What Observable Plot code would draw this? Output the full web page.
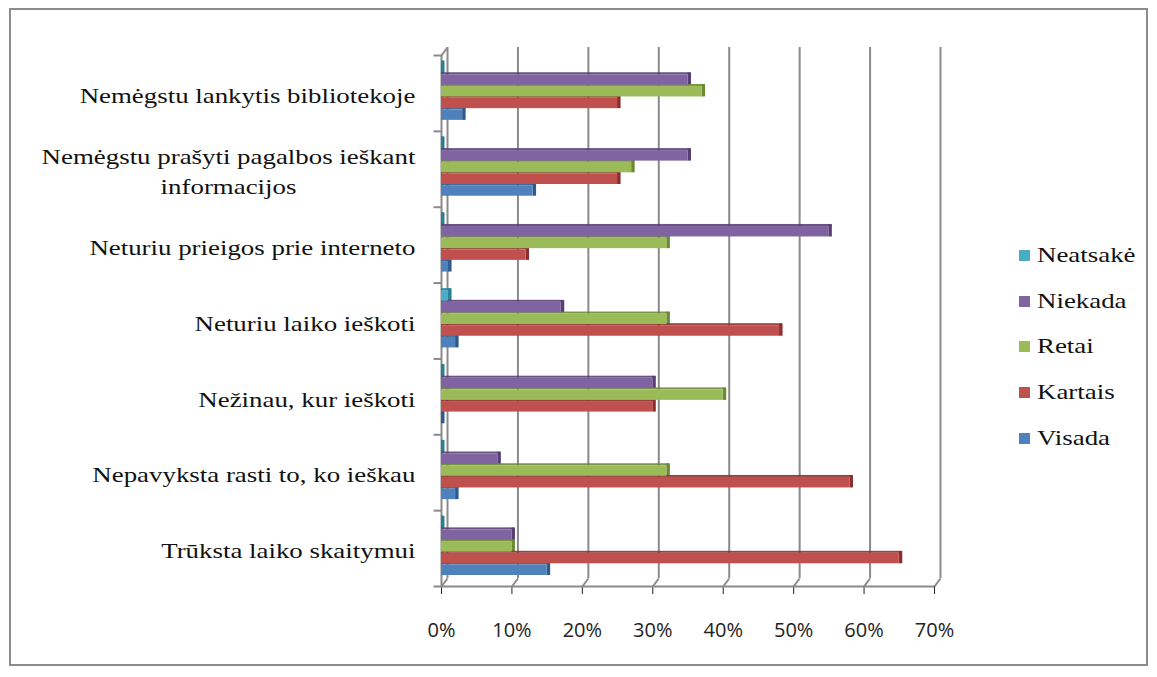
<!DOCTYPE html>
<html><head><meta charset="utf-8">
<script src="https://cdn.jsdelivr.net/npm/d3@7"></script>
<script src="https://cdn.jsdelivr.net/npm/@observablehq/plot@0.6"></script>
<style>
html,body{margin:0;padding:0;background:#fff;}
#wrap{position:relative;width:1157px;height:677px;overflow:hidden;}
#border{position:absolute;left:9px;top:8px;width:1139px;height:658px;border:2px solid #8c8c8c;box-sizing:border-box;}
#chart{position:absolute;left:0;top:0;}
#legend{position:absolute;left:1019px;top:233px;color:#111;}
.li{display:flex;align-items:center;height:45.6px;}
.sw{width:11px;height:11px;margin-right:7px;flex:none;}
.lt{font-family:'Liberation Serif','Times New Roman',serif;font-size:21px;display:inline-block;transform:scaleX(1.28);transform-origin:0 50%;white-space:nowrap;}
</style></head>
<body><div id="wrap"><div id="border"></div><div id="chart"></div><div id="legend"></div></div>
<script>
// ---- data ----
const categories = [
  "Nemėgstu lankytis bibliotekoje",
  "Nemėgstu prašyti pagalbos ieškant\ninformacijos",
  "Neturiu prieigos prie interneto",
  "Neturiu laiko ieškoti",
  "Nežinau, kur ieškoti",
  "Nepavyksta rasti to, ko ieškau",
  "Trūksta laiko skaitymui"
];
const series = ["Visada", "Kartais", "Retai", "Niekada", "Neatsakė"];
const visada   = [3, 13, 1, 2, 0, 2, 15];
const kartais  = [25, 25, 12, 48, 30, 58, 65];
const retai    = [37, 27, 32, 32, 40, 32, 10];
const niekada  = [35, 35, 55, 17, 30, 8, 10];
const neatsake = [0, 0, 0, 1, 0, 0, 0];
const xTicks = [0, 10, 20, 30, 40, 50, 60, 70];
const colors = ["#4F81BD", "#C0504D", "#9BBB59", "#8064A2", "#4BACC6"];
const sideColors = ["#2f5a8c", "#8c2f2c", "#6a8a34", "#563f74", "#2a7f96"];

// ---- layout ----
const W = 1157, H = 677;
const mL = 441, mR = 223, mT = 55, mB = 91;
const n = categories.length;
const pxX = (W - mL - mR) / 70;       // px per percent
const pxY = (H - mT - mB) / n;        // px per band
const barH = 11.7 / pxY, padB = 11 / pxY;
const stretch = 1.28;
const valueSets = [visada, kartais, retai, niekada, neatsake];

const rows = [];
categories.forEach((c, i) => {
  valueSets.forEach((vals, j) => {
    const b = n - 1 - i;
    const y1 = b + padB + j * barH;
    rows.push({cat: c, series: series[j], j, value: vals[i], y1, y2: y1 + barH});
  });
});

// label lines
const ctx = document.createElement("canvas").getContext("2d");
ctx.font = "21px 'Liberation Serif'";
const lineH = 30 / pxY;
const labelLines = [];
categories.forEach((c, i) => {
  const lines = c.split("\n");
  const w = stretch * Math.max(...lines.map(l => ctx.measureText(l).width));
  lines.forEach((l, k) => {
    labelLines.push({
      text: l,
      x: -(26 + w / 2) / pxX,
      y: (n - 1 - i) + 0.46 + ((lines.length - 1) / 2 - k) * lineH
    });
  });
});

const gray = "#8a8a8a";
const chart = Plot.plot({
  width: W, height: H,
  marginLeft: mL, marginRight: mR, marginTop: mT, marginBottom: mB,
  x: {domain: [0, 70], ticks: xTicks, tickFormat: d => d + "%", tickSize: 8, tickPadding: 28, label: null},
  y: {domain: [0, n], axis: null},
  style: {fontFamily: "'Open Sans', 'Liberation Sans', sans-serif", fontSize: "20px", color: "#222", background: "transparent", overflow: "visible"},
  marks: [
    Plot.ruleX(xTicks, {x: d => d, y1: 0, y2: n, dx: 6, dy: -8, stroke: gray, strokeWidth: 2}),
    Plot.link(xTicks, {x1: d => d, y1: 0, x2: d => d + 6 / pxX, y2: 8 / pxY, stroke: gray, strokeWidth: 2}),
    Plot.ruleY([0], {x1: 0, x2: 70, stroke: gray, strokeWidth: 2}),
    Plot.ruleX([0], {y1: 0, y2: n, stroke: gray, strokeWidth: 2}),
    Plot.link([n], {x1: 0, y1: d => d, x2: 6 / pxX, y2: d => d + 8 / pxY, stroke: gray, strokeWidth: 2}),
    Plot.link(d3.range(n + 1), {x1: -8 / pxX, x2: 0, y1: d => d, y2: d => d, stroke: gray, strokeWidth: 2}),
    Plot.rect(rows, {x1: d => d.value, x2: d => d.value + 3.5 / pxX, y1: d => d.y1, y2: d => d.y2 + 0.6 / pxY, fill: d => sideColors[d.j]}),
    Plot.rect(rows, {x1: 0, x2: d => d.value + 3 / pxX, y1: d => d.y2 - 1.2 / pxY, y2: d => d.y2 + 0.8 / pxY, fill: d => sideColors[d.j], fillOpacity: 0.9}),
    Plot.rect(rows, {x1: 0, x2: "value", y1: "y1", y2: d => d.y2 - 1.2 / pxY, fill: d => colors[d.j]}),
    Plot.text(labelLines, {x: "x", y: "y", text: "text", textAnchor: "middle", fontFamily: "'Liberation Serif', 'Times New Roman', serif", fontSize: 21, fill: "#111"})
  ]
});
// horizontal stretch of the category labels (as in the original picture)
d3.select(chart).selectAll("g[aria-label='text'] text").each(function() {
  const t = this.getAttribute("transform");
  if (t) {
    this.setAttribute("transform", t + ` scale(${stretch},1)`);
  } else {
    const x = +this.getAttribute("x") || 0, y = +this.getAttribute("y") || 0;
    this.removeAttribute("x"); this.removeAttribute("y");
    this.setAttribute("transform", `translate(${x},${y}) scale(${stretch},1)`);
  }
});
document.getElementById("chart").appendChild(chart);

// legend (top to bottom: reverse series order)
const legend = document.getElementById("legend");
series.slice().reverse().forEach(s => {
  const j = series.indexOf(s);
  const item = document.createElement("div");
  item.className = "li";
  item.innerHTML = `<span class="sw" style="background:${colors[j]}"></span><span class="lt">${s}</span>`;
  legend.appendChild(item);
});
</script>
</body></html>
